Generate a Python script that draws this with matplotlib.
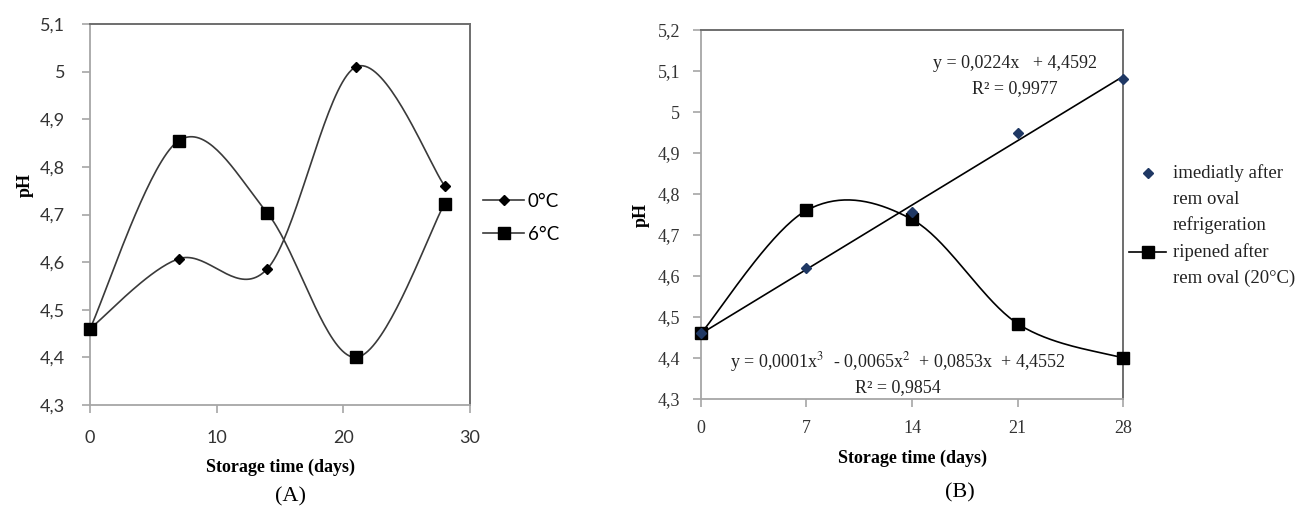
import matplotlib
matplotlib.use("Agg")
import matplotlib.pyplot as plt
import numpy as np
from matplotlib.lines import Line2D

# panel A : pH vs storage time at two temperatures
days_a = [0, 7, 14, 21, 28]
ph_0c = [4.46, 4.607, 4.586, 5.01, 4.76]
ph_6c = [4.46, 4.855, 4.703, 4.40, 4.723]
labels_a = ["0°C", "6°C"]

# panel B : immediately after removal vs ripened
days_b = [0, 7, 14, 21, 28]
ph_immediate = [4.46, 4.62, 4.757, 4.948, 5.08]
ph_ripened = [4.46, 4.76, 4.738, 4.484, 4.40]
labels_b = ["imediatly after\nrem oval\nrefrigeration", "ripened after\nrem oval (20°C)"]
eq_linear = ["y = 0,0224x   + 4,4592", "R² = 0,9977"]
eq_cubic = ["y = 0,0001x$^3$  - 0,0065x$^2$  + 0,0853x  + 4,4552", "R² = 0,9854"]

W, H = 1304, 509
SANS = "Lato"
SERIF = "Liberation Serif"
LINE = "#3a3a3a"
AXC = "#a6a6a6"
EDGE = "#6e6e6e"


def smooth(x, y, n=40):
    # excel-like smoothed line (catmull-rom bezier)
    x = np.asarray(x, float)
    y = np.asarray(y, float)
    P = np.column_stack([x, y])
    out = []
    for i in range(len(P) - 1):
        p0 = P[i - 1] if i > 0 else P[i]
        p3 = P[i + 2] if i + 2 < len(P) else P[i + 1]
        c1 = P[i] + (P[i + 1] - p0) / 6
        c2 = P[i + 1] - (p3 - P[i]) / 6
        t = np.linspace(0, 1, n)[:, None]
        seg = ((1 - t) ** 3 * P[i] + 3 * (1 - t) ** 2 * t * c1
               + 3 * (1 - t) * t ** 2 * c2 + t ** 3 * P[i + 1])
        out.append(seg if i == 0 else seg[1:])
    out = np.vstack(out)
    return out[:, 0], out[:, 1]


def fmt(v, pos=None):
    s = ("%.1f" % v).replace(".", ",")
    return s[:-2] if s.endswith(",0") else s


def style_axes(ax, font, pad_x, pad_y):
    for s in ["left", "bottom"]:
        ax.spines[s].set_color(AXC)
        ax.spines[s].set_linewidth(1.3)
    for s in ["top", "right"]:
        ax.spines[s].set_color(EDGE)
        ax.spines[s].set_linewidth(1.4)
    ax.tick_params(axis="both", direction="out", length=6, width=1.2, color=AXC,
                   labelsize=13, labelcolor="#333333", labelfontfamily=font)
    ax.tick_params(axis="x", pad=pad_x)
    ax.tick_params(axis="y", pad=pad_y)
    ax.yaxis.set_major_formatter(plt.FuncFormatter(fmt))


fig = plt.figure(figsize=(W / 100, H / 100), dpi=100)

# ---------------- panel A
axa = fig.add_axes([90 / W, 1 - 405 / H, 380 / W, 381 / H])
sx, sy = smooth(days_a, ph_0c)
axa.plot(sx, sy, color=LINE, lw=1.2)
axa.plot(days_a, ph_0c, ls="none", marker="D", ms=5.5, color="black", clip_on=False, zorder=4)
sx, sy = smooth(days_a, ph_6c)
axa.plot(sx, sy, color=LINE, lw=1.2)
axa.plot(days_a, ph_6c, ls="none", marker="s", ms=9, color="black", clip_on=False, zorder=4)
axa.set_xlim(0, 30)
axa.set_ylim(4.3, 5.1)
axa.set_xticks([0, 10, 20, 30])
axa.set_yticks(np.arange(4.3, 5.11, 0.1))
style_axes(axa, SANS, 12, 12)
axa.set_xlabel("Storage time (days)", family=SERIF, weight="bold", fontsize=13, labelpad=9)
fig.text(25 / W, 1 - 185 / H, "pH", family=SERIF, weight="bold", fontsize=13,
         rotation=90, ha="center", va="center")

hA = [Line2D([], [], color=LINE, lw=1.2, marker="D", ms=5.5, mfc="black", mec="black"),
      Line2D([], [], color=LINE, lw=1.2, marker="s", ms=9, mfc="black", mec="black")]
axa.legend(hA, labels_a, loc="upper left", bbox_to_anchor=(483 / W, 1 - 193 / H),
           bbox_transform=fig.transFigure, frameon=False, borderpad=0, borderaxespad=0,
           handlelength=2.2, handletextpad=0.2, labelspacing=0.85,
           prop={"family": SANS, "size": 13.5})
fig.text(290 / W, 1 - 497 / H, "(A)", family=SERIF, fontsize=16, ha="center", va="center")

# ---------------- panel B
axb = fig.add_axes([701 / W, 1 - 399 / H, 422 / W, 369 / H])
coef = np.polyfit(days_b, ph_immediate, 1)
xf = np.array([days_b[0], days_b[-1]])
axb.plot(xf, np.polyval(coef, xf), color="black", lw=1.2)
sx, sy = smooth(days_b, ph_ripened)
axb.plot(sx, sy, color="black", lw=1.2)
axb.plot(days_b, ph_ripened, ls="none", marker="s", ms=8.5, color="black", clip_on=False, zorder=4)
axb.plot(days_b, ph_immediate, ls="none", marker="D", ms=5, color="#1f3864", clip_on=False, zorder=5)
axb.set_xlim(0, 28)
axb.set_ylim(4.3, 5.2)
axb.set_xticks(days_b)
axb.set_yticks(np.arange(4.3, 5.21, 0.1))
style_axes(axb, SERIF, 9, 9)
axb.set_xlabel("Storage time (days)", family=SERIF, weight="bold", fontsize=13, labelpad=9)
fig.text(641 / W, 1 - 215 / H, "pH", family=SERIF, weight="bold", fontsize=13,
         rotation=90, ha="center", va="center")

for i, s in enumerate(eq_linear):
    fig.text(1015 / W, 1 - (63 + 26 * i) / H, s, family=SERIF, fontsize=13,
             ha="center", va="center", color="#222222")
for i, s in enumerate(eq_cubic):
    fig.text(898 / W, 1 - (362 + 26 * i) / H, s, family=SERIF, fontsize=13,
             ha="center", va="center", color="#222222", math_fontfamily="stix")

# legend of panel B, handles aligned with the first text line
fig.add_artist(Line2D([1148 / W], [1 - 173 / H], ls="none", marker="D", ms=5,
                      color="#1f3864", transform=fig.transFigure))
fig.add_artist(Line2D([1129 / W, 1166 / W], [1 - 252 / H, 1 - 252 / H], color="black",
                      lw=1.2, transform=fig.transFigure))
fig.add_artist(Line2D([1148 / W], [1 - 252 / H], ls="none", marker="s", ms=8.5,
                      color="black", transform=fig.transFigure))
y0 = 173
for lab in labels_b:
    for line in lab.split("\n"):
        fig.text(1173 / W, 1 - y0 / H, line, family=SERIF, fontsize=13.5,
                 ha="left", va="center", color="#222222")
        y0 += 26
    y0 += 1
fig.text(960 / W, 1 - 493 / H, "(B)", family=SERIF, fontsize=16, ha="center", va="center")

fig.savefig("out.png", dpi=100)
